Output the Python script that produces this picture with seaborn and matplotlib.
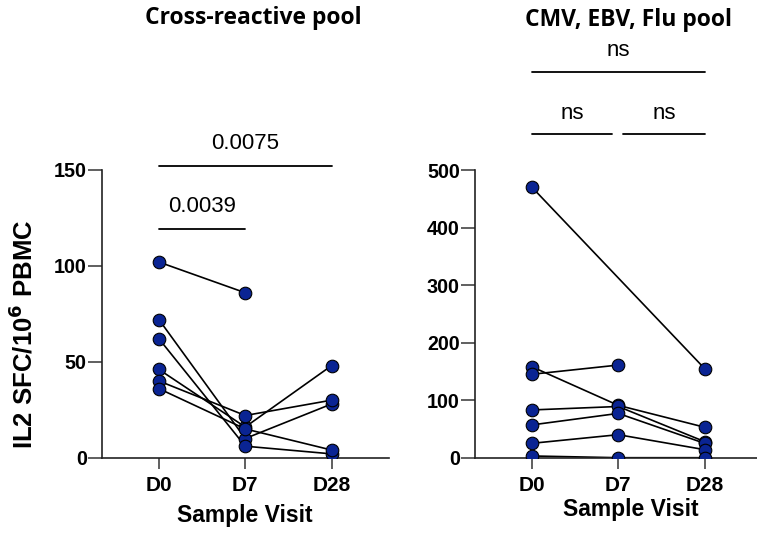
import numpy as np
import pandas as pd
import matplotlib.pyplot as plt
import seaborn as sns

sns.set_theme(style='ticks')
plt.rcParams['font.family'] = ['Liberation Sans', 'DejaVu Sans']
plt.rcParams['text.color'] = 'black'
plt.rcParams['axes.labelcolor'] = 'black'
plt.rcParams['xtick.color'] = 'black'
plt.rcParams['ytick.color'] = 'black'

# --- data
visits = ['D0', 'D7', 'D28']

cross_d0 = [102, 72, 62, 46, 40, 36]
cross_d7 = [86, 10, 6, 16, 22, 15]
cross_d28 = [np.nan, 28, 2, 48, 30, 4]

cef_d0 = [470, 158, 145, 83, 57, 25, 3]
cef_d7 = [np.nan, 91, 161, 89, 77, 40, 0]
cef_d28 = [155, 53, np.nan, 28, 25, 14, 0]

titles = ['Cross-reactive pool', 'CMV, EBV, Flu pool']

# brackets: (x_start, x_end, y_line, label, y_label)
cross_stats = [(0, 1, 119, '0.0039', 131),
               (0, 2, 152, '0.0075', 164)]
cef_stats = [(0, 0.93, 562, 'ns', 599),
             (1.06, 2, 562, 'ns', 599),
             (0, 2, 670, 'ns', 708)]

dot_color = '#0a2493'


def to_long(d0, d7, d28):
    rows = []
    for i, vals in enumerate(zip(d0, d7, d28)):
        for j, v in enumerate(vals):
            rows.append({'subject': i, 'pos': j, 'visit': visits[j], 'val': v})
    df = pd.DataFrame(rows)
    return df.dropna()


def draw_panel(ax, df, stats, ylim, yticks):
    sns.lineplot(data=df, x='pos', y='val', units='subject', estimator=None,
                 color='black', lw=1.2, sort=True, ax=ax, legend=False)
    sns.scatterplot(data=df, x='pos', y='val', color=dot_color,
                    edgecolor='black', linewidth=0.8, s=82, zorder=5,
                    ax=ax, legend=False)
    ax.set_xlim(-0.66, 2.66)
    ax.set_ylim(*ylim)
    ax.set_yticks(yticks)
    ax.set_xticks(range(len(visits)))
    ax.set_xticklabels(visits)
    for lab in ax.get_xticklabels():
        lab.set_fontweight('bold')
        lab.set_fontsize(15)
    for lab in ax.get_yticklabels():
        lab.set_fontweight('bold')
        lab.set_fontsize(14.2)
    sns.despine(ax=ax)
    for sp in ['left', 'bottom']:
        ax.spines[sp].set_linewidth(1.2)
        ax.spines[sp].set_color('#222222')
    ax.tick_params(axis='both', width=1.2, color='#444444')
    ax.tick_params(axis='x', length=8, pad=5)
    ax.tick_params(axis='y', length=10, pad=1)
    for x0, x1, yl, txt, yt in stats:
        ax.plot([x0, x1], [yl, yl], color='black', lw=1.3, clip_on=False)
        ax.text((x0 + x1) / 2, yt, txt, ha='center', va='center',
                fontsize=16, color='black')


fig = plt.figure(figsize=(7.57, 5.33), dpi=100)
ax1 = fig.add_axes([102 / 757, 75.3 / 533, 286.5 / 757, 287.7 / 533])
ax2 = fig.add_axes([475 / 757, 75.3 / 533, 286.5 / 757, 287.7 / 533])

draw_panel(ax1, to_long(cross_d0, cross_d7, cross_d28), cross_stats,
           (0, 150), [0, 50, 100, 150])
draw_panel(ax2, to_long(cef_d0, cef_d7, cef_d28), cef_stats,
           (0, 500), [0, 100, 200, 300, 400, 500])

ax1.set_ylabel('IL2 SFC/10$^\\mathbf{6}$ PBMC', fontsize=18.5, fontweight='bold')
ax1.yaxis.set_label_coords(-0.225, 0.43)
ax2.set_ylabel('')

ax1.set_xlabel('Sample Visit', fontsize=16.5, fontweight='bold')
ax1.xaxis.set_label_coords(0.5, -0.16)
ax2.set_xlabel('Sample Visit', fontsize=16.5, fontweight='bold')
ax2.xaxis.set_label_coords(0.545, -0.14)

ax1.text(0.527, 1.528, titles[0], transform=ax1.transAxes, ha='center',
         va='center', fontsize=16.5, fontweight='bold', family=['Open Sans', 'DejaVu Sans'])
ax2.text(0.5375, 1.52, titles[1], transform=ax2.transAxes, ha='center',
         va='center', fontsize=16.5, fontweight='bold', family=['Open Sans', 'DejaVu Sans'])

plt.savefig('out.png', dpi=100)
plt.close(fig)
